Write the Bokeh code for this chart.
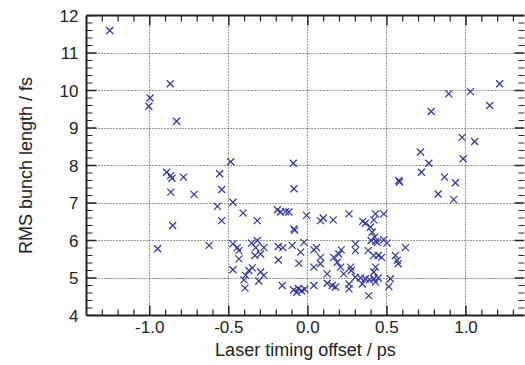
import numpy as np
from bokeh.plotting import figure
from bokeh.models import LinearAxis, FixedTicker, CustomJSTickFormatter, Range1d
from bokeh.embed import file_html
from bokeh.resources import INLINE

offset_ps = [
    -1.253, -0.998, -1.006, -0.870, -0.830, -0.893, -0.868, -0.860, -0.787, -0.867, -0.720, -0.855, -0.950,
    -0.488, -0.558, -0.545, -0.572, -0.474, -0.410, -0.545, -0.320, -0.625, -0.474, -0.446, -0.436, -0.356,
    -0.320, -0.330, -0.278, -0.299, -0.335, -0.187, -0.158, -0.436, -0.187, -0.474, -0.351, -0.373, -0.394,
    -0.299, -0.278, -0.404, -0.310, -0.398, -0.162,
    -0.193, -0.172, -0.141, -0.120,
    -0.092, -0.088, -0.008, 0.080, 0.097, 0.160, 0.260, -0.088, -0.084, -0.099, -0.025, -0.046, 0.038, 0.055,
    0.211, 0.301, 0.196, 0.080, 0.164, -0.057, 0.038, 0.080, 0.186, 0.207, 0.270, 0.274, 0.122, 0.227,
    -0.090, -0.060, -0.040, -0.020, -0.070, 0.038, 0.122, 0.154, 0.175, 0.260, 0.260,
    0.765, 0.718, 0.575, 0.580, 0.824, 0.428, 0.480, 0.417, 0.347, 0.364, 0.396, 0.407, 0.423, 0.400, 0.430,
    0.440, 0.480, 0.500, 0.617, 0.301, 0.381, 0.417, 0.445, 0.466, 0.554, 0.565, 0.571, 0.428, 0.417, 0.300,
    0.333, 0.364, 0.390, 0.417, 0.445, 0.344, 0.428, 0.522, 0.512, 0.385,
    1.213, 1.028, 0.891, 1.150, 0.780, 0.975, 1.055, 0.982, 0.712, 0.864, 0.933, 0.922,
]
rms_fs = [
    11.60, 9.80, 9.58, 10.18, 9.18, 7.82, 7.73, 7.66, 7.69, 7.29, 7.23, 6.40, 5.78,
    8.10, 7.78, 7.36, 6.91, 7.02, 6.73, 6.53, 6.53, 5.87, 5.91, 5.81, 5.73, 5.93,
    6.00, 5.81, 5.81, 5.64, 5.60, 5.84, 5.81, 5.51, 5.48, 5.22, 5.27, 5.20, 5.07,
    5.16, 5.07, 4.95, 4.92, 4.73, 4.80,
    6.82, 6.76, 6.77, 6.76,
    8.06, 7.38, 6.67, 6.53, 6.60, 6.55, 6.71, 6.31, 6.27, 5.87, 5.95, 5.69, 5.75, 5.81,
    5.75, 5.91, 5.64, 5.55, 5.55, 5.39, 5.29, 5.38, 5.42, 5.29, 5.29, 5.20, 5.11, 5.11,
    4.68, 4.72, 4.66, 4.70, 4.62, 4.80, 4.86, 4.80, 4.76, 4.84, 4.71,
    8.06, 7.82, 7.60, 7.56, 7.24, 6.71, 6.71, 6.55, 6.51, 6.46, 6.36, 6.22, 6.09, 6.00, 5.98,
    5.95, 6.02, 5.93, 5.81, 5.73, 5.73, 5.60, 5.60, 5.55, 5.60, 5.47, 5.38, 5.29, 5.16, 5.02,
    5.00, 4.98, 4.95, 4.98, 5.00, 4.84, 4.89, 4.98, 4.77, 4.53,
    10.18, 9.97, 9.91, 9.60, 9.44, 8.75, 8.64, 8.18, 8.36, 7.69, 7.54, 7.09,
]
x_ticks = [-1.0, -0.5, 0.0, 0.5, 1.0]
x_tick_labels = ["-1.0", "-0.5", "0.0", "0.5", "1.0"]
y_ticks = [4, 5, 6, 7, 8, 9, 10, 11, 12]
x_label = "Laser timing offset / ps"
y_label = "RMS bunch length / fs"

FONT = "Liberation Sans"
AX = "#222222"
W, H = 525, 365
BL, BR, BT, BB = 86, 1, 15, 50
X0, X1, Y0, Y1 = -1.4, 1.37, 4.0, 12.0
x_minor = [round(v, 2) for v in np.arange(-1.4, 1.41, 0.1)]
y_minor = [round(v, 2) for v in np.arange(4.0, 12.01, 0.2)]
xt = FixedTicker(ticks=x_ticks, minor_ticks=x_minor)
yt = FixedTicker(ticks=y_ticks, minor_ticks=y_minor)

p = figure(width=W, height=H, output_backend="svg", toolbar_location=None,
           x_range=Range1d(X0, X1), y_range=Range1d(Y0, Y1),
           x_axis_location=None, y_axis_location=None,
           min_border_left=BL, min_border_right=BR, min_border_top=BT, min_border_bottom=BB)
p.outline_line_color = None
p.background_fill_color = "white"
p.border_fill_color = "white"

def style(ax, ticker, labels=True):
    ax.ticker = ticker
    ax.axis_line_color = AX
    ax.axis_line_width = 2
    ax.major_tick_line_color = None
    ax.minor_tick_line_color = None
    ax.major_tick_in = 0
    ax.major_tick_out = 0
    ax.minor_tick_in = 0
    ax.minor_tick_out = 0
    ax.major_label_text_font = FONT
    ax.major_label_text_font_size = "17px"
    ax.major_label_text_color = AX
    ax.axis_label_text_font = FONT
    ax.axis_label_text_font_size = "18px"
    ax.axis_label_text_font_style = "normal"
    ax.axis_label_text_color = AX
    if not labels:
        ax.formatter = CustomJSTickFormatter(code="return '';")
        ax.major_label_text_font_size = "0px"
        ax.major_label_standoff = 0

xb = LinearAxis(axis_label=x_label, major_label_overrides={t: l for t, l in zip(x_ticks, x_tick_labels)})
style(xb, xt)
xb.major_label_standoff = 5
xb.axis_label_standoff = 4
p.add_layout(xb, "below")

yl = LinearAxis(axis_label=y_label)
style(yl, yt)
yl.major_label_standoff = 8
yl.axis_label_standoff = 21
p.add_layout(yl, "left")

xa = LinearAxis()
style(xa, xt, labels=False)
p.add_layout(xa, "above")

p.xgrid.ticker = xt
p.ygrid.ticker = yt
for g in (p.xgrid, p.ygrid):
    g.grid_line_color = "#333333"
    g.grid_line_dash = "1 2"
    g.grid_line_width = 1

# inward tick marks drawn as short segments (lengths in pixels converted to data units)
dxp = (X1 - X0) / (W - BL - BR)
dyp = (Y1 - Y0) / (H - BT - BB)
MAJ, MIN = 10, 6
ymin_t = [v for v in y_minor if all(abs(v - t) > 1e-6 for t in y_ticks)]
xmin_t = [v for v in x_minor if all(abs(v - t) > 1e-6 for t in x_ticks) and X0 < v < X1]
for edge, sgn in ((X0, 1), (X1, -1)):
    p.segment(x0=[edge] * len(y_ticks), y0=y_ticks, x1=[edge + sgn * MAJ * dxp] * len(y_ticks), y1=y_ticks,
              line_color=AX, line_width=1.5)
    p.segment(x0=[edge] * len(ymin_t), y0=ymin_t, x1=[edge + sgn * MIN * dxp] * len(ymin_t), y1=ymin_t,
              line_color=AX, line_width=1.2)
for edge, sgn in ((Y0, 1), (Y1, -1)):
    p.segment(x0=x_ticks, y0=[edge] * len(x_ticks), x1=x_ticks, y1=[edge + sgn * MAJ * dyp] * len(x_ticks),
              line_color=AX, line_width=1.5)
    p.segment(x0=xmin_t, y0=[edge] * len(xmin_t), x1=xmin_t, y1=[edge + sgn * MIN * dyp] * len(xmin_t),
              line_color=AX, line_width=1.2)

p.scatter(offset_ps, rms_fs, marker="x", size=10, line_color="#34349e", line_width=1.2)

open("out.html", "w").write(file_html(p, INLINE))
